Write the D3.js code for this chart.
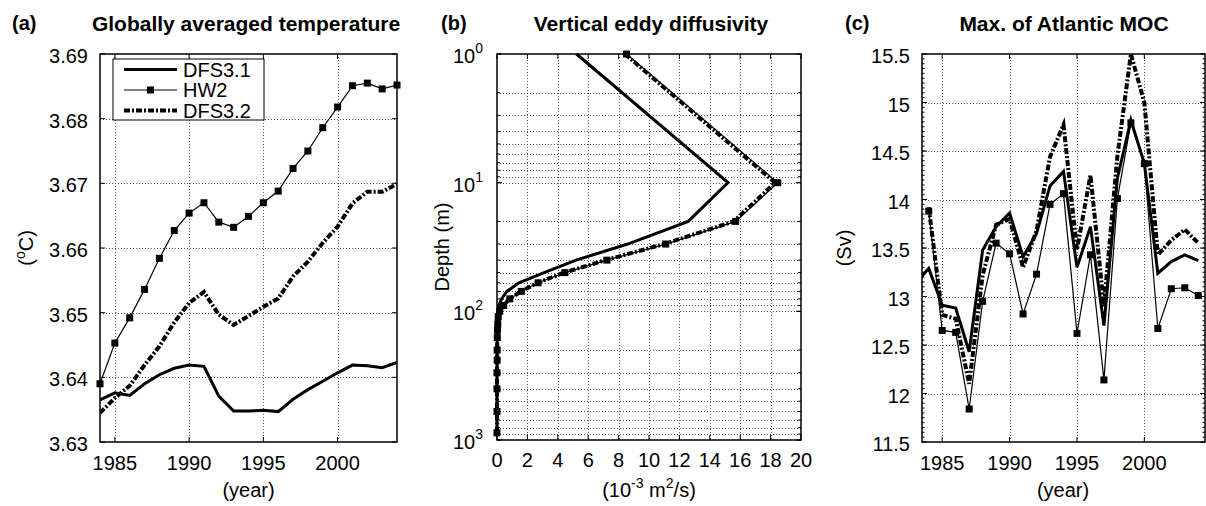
<!DOCTYPE html>
<html>
<head>
<meta charset="utf-8">
<script src="https://cdn.jsdelivr.net/npm/d3@7"></script>
<style>
  body { margin: 0; background: #fff; }
  svg text { font-family: "Liberation Sans", Arial, sans-serif; fill: #000; }
</style>
</head>
<body>
<svg id="fig" width="1206" height="506"></svg>
<script>
// ---- data ----
var years = [1984, 1985, 1986, 1987, 1988, 1989, 1990, 1991, 1992, 1993, 1994,
             1995, 1996, 1997, 1998, 1999, 2000, 2001, 2002, 2003, 2004];

// (a) globally averaged temperature (degC)
var tempDFS31 = [3.6365, 3.6376, 3.6372, 3.6390, 3.6404, 3.6414, 3.6419, 3.6417, 3.6371, 3.6348, 3.6348,
                 3.6349, 3.6347, 3.6366, 3.6381, 3.6394, 3.6407, 3.6419, 3.6418, 3.6415, 3.6423];
var tempHW2   = [3.6390, 3.6453, 3.6492, 3.6536, 3.6584, 3.6627, 3.6654, 3.6670, 3.6640, 3.6632, 3.6649,
                 3.6670, 3.6688, 3.6723, 3.6750, 3.6786, 3.6818, 3.6851, 3.6855, 3.6846, 3.6852];
var tempDFS32 = [3.6345, 3.6368, 3.6387, 3.6419, 3.6448, 3.6485, 3.6515, 3.6532, 3.6497, 3.6481, 3.6495,
                 3.6509, 3.6522, 3.6556, 3.6579, 3.6608, 3.6633, 3.6669, 3.6687, 3.6687, 3.6699];

// (b) vertical eddy diffusivity (1e-3 m2/s) against depth (m)
var depths   = [1, 10, 20, 30, 40, 50, 60, 70, 80, 90, 100, 110, 125, 140, 160, 200, 240, 300, 400, 600, 880];
var kzDFS31  = [5.23, 15.2, 12.58, 8.6, 5.2, 3.1, 1.45, 0.65, 0.3, 0.12, 0.05, 0.03, 0.02, 0.01, 0.01, 0.01, 0, 0, 0, 0, 0];
var kzHW2    = [8.52, 18.47, 15.7, 11.1, 7.23, 4.47, 2.7, 1.6, 0.84, 0.44, 0.18, 0.08, 0.05, 0.03, 0.02, 0.01, 0.01, 0, 0, 0, 0];
var kzDFS32  = [8.42, 18.3, 15.58, 11.0, 7.15, 4.42, 2.66, 1.58, 0.82, 0.43, 0.17, 0.07, 0.04, 0.03, 0.02, 0.01, 0.01, 0, 0, 0, 0];

// (c) max of Atlantic MOC (Sv); DFS3.1 starts one year earlier
var mocYears31 = [1983].concat(years);
var mocDFS31 = [13.13, 13.29, 12.91, 12.88, 12.43, 13.48, 13.72, 13.86, 13.41, 13.65, 14.14, 14.29,
                13.30, 13.72, 12.70, 14.22, 14.82, 14.37, 13.24, 13.36, 13.43, 13.37];
var mocHW2   = [13.88, 12.65, 12.63, 11.84, 12.95, 13.55, 13.44, 12.82, 13.23, 13.95, 14.06,
                12.62, 13.43, 12.14, 14.01, 14.79, 14.37, 12.67, 13.08, 13.09, 13.01];
var mocDFS32 = [13.92, 12.81, 12.77, 12.10, 13.22, 13.74, 13.80, 13.30, 13.68, 14.44, 14.77,
                13.48, 14.25, 12.90, 14.45, 15.50, 15.00, 13.43, 13.58, 13.69, 13.55];

var seriesNames = ["DFS3.1", "HW2", "DFS3.2"];
var yearTicks = [1985, 1990, 1995, 2000];
var tempTicks = [3.63, 3.64, 3.65, 3.66, 3.67, 3.68, 3.69];
var kzTicks = [0, 2, 4, 6, 8, 10, 12, 14, 16, 18, 20];
var depthTicks = [1, 10, 100, 1000];
var mocTicks = [11.5, 12, 12.5, 13, 13.5, 14, 14.5, 15, 15.5];

// ---- styles ----
var FS = 20;
var styles = {
  "DFS3.1": { width: 3, dash: null, marker: false },
  "HW2":    { width: 1.2, dash: null, marker: true },
  "DFS3.2": { width: 4, dash: "6,2,2,2", marker: false }
};

var svg = d3.select("#fig");

function addClip(id, w, h) {
  svg.append("clipPath").attr("id", id)
    .append("rect").attr("x", 0).attr("y", 0).attr("width", w).attr("height", h);
}

// dotted grid lines
function frame(g, x, y, w, h, xGrid, yGrid) {
  var grid = g.append("g")
    .attr("stroke", "#555").attr("stroke-width", 1).attr("stroke-dasharray", "1,2");
  grid.selectAll(".gx").data(xGrid).enter().append("line")
    .attr("x1", function (d) { return Math.round(x(d)) + 0.5; })
    .attr("x2", function (d) { return Math.round(x(d)) + 0.5; })
    .attr("y1", 0).attr("y2", h);
  grid.selectAll(".gy").data(yGrid).enter().append("line")
    .attr("y1", function (d) { return Math.round(y(d)) + 0.5; })
    .attr("y2", function (d) { return Math.round(y(d)) + 0.5; })
    .attr("x1", 0).attr("x2", w);
}

// inward ticks on all four sides
function ticks(g, x, y, w, h, xt, yt, len) {
  var t = g.append("g").attr("stroke", "#000").attr("stroke-width", 1);
  xt.forEach(function (d) {
    var px = x(d);
    t.append("line").attr("x1", px).attr("x2", px).attr("y1", h).attr("y2", h - len);
    t.append("line").attr("x1", px).attr("x2", px).attr("y1", 0).attr("y2", len);
  });
  yt.forEach(function (d) {
    var py = y(d);
    t.append("line").attr("y1", py).attr("y2", py).attr("x1", 0).attr("x2", len);
    t.append("line").attr("y1", py).attr("y2", py).attr("x1", w).attr("x2", w - len);
  });
}

function box(g, w, h) {
  g.append("rect").attr("x", 0).attr("y", 0).attr("width", w).attr("height", h)
    .attr("fill", "none").attr("stroke", "#000").attr("stroke-width", 1.5);
}

function drawSeries(g, name, pts, clipId) {
  var st = styles[name];
  var line = d3.line().x(function (d) { return d[0]; }).y(function (d) { return d[1]; });
  g.append("path")
    .datum(pts)
    .attr("clip-path", clipId ? "url(#" + clipId + ")" : null)
    .attr("d", line)
    .attr("fill", "none")
    .attr("stroke", "#000")
    .attr("stroke-width", st.width)
    .attr("stroke-linejoin", "miter")
    .attr("stroke-dasharray", st.dash);
  if (st.marker) {
    g.selectAll(null).data(pts).enter().append("rect")
      .attr("x", function (d) { return d[0] - 3.5; })
      .attr("y", function (d) { return d[1] - 3.5; })
      .attr("width", 7).attr("height", 7)
      .attr("fill", "#000");
  }
}

function titles(letter, lx, title, cx) {
  svg.append("text").attr("x", lx).attr("y", 30)
    .attr("font-size", FS).attr("font-weight", "bold").text(letter);
  svg.append("text").attr("x", cx).attr("y", 31).attr("text-anchor", "middle")
    .attr("font-size", 21).attr("font-weight", "bold").text(title);
}

function yLabel(x, y, build) {
  var t = svg.append("text").attr("transform", "translate(" + x + "," + y + ") rotate(-90)")
    .attr("text-anchor", "middle").attr("font-size", FS);
  build(t);
}

// ================= (a) =================
(function () {
  var L = 100, T = 54, W = 297, H = 388;
  var x = d3.scaleLinear().domain([1984, 2004]).range([0, W]);
  var y = d3.scaleLinear().domain([3.63, 3.69]).range([H, 0]);
  var g = svg.append("g").attr("transform", "translate(" + L + "," + T + ")");
  addClip("clipA", W, H);

  frame(g, x, y, W, H, yearTicks, tempTicks.slice(1, -1));

  var data = { "DFS3.1": tempDFS31, "HW2": tempHW2, "DFS3.2": tempDFS32 };
  seriesNames.forEach(function (n) {
    drawSeries(g, n, years.map(function (yr, i) { return [x(yr), y(data[n][i])]; }), "clipA");
  });

  ticks(g, x, y, W, H, yearTicks, tempTicks, 5);
  box(g, W, H);

  yearTicks.forEach(function (d) {
    g.append("text").attr("x", x(d)).attr("y", H + 28).attr("text-anchor", "middle")
      .attr("font-size", FS).text(d);
  });
  tempTicks.forEach(function (d) {
    g.append("text").attr("x", -12).attr("y", y(d) + 9).attr("text-anchor", "end")
      .attr("font-size", FS).text(d3.format(".2f")(d));
  });

  // legend
  var lg = g.append("g").attr("transform", "translate(13,5)");
  lg.append("rect").attr("width", 151).attr("height", 61)
    .attr("fill", "#fff").attr("stroke", "#000").attr("stroke-width", 1);
  seriesNames.forEach(function (n, i) {
    var cy = 10.5 + i * 20.5;
    var st = styles[n];
    lg.append("line").attr("x1", 11).attr("x2", 64).attr("y1", cy).attr("y2", cy)
      .attr("stroke", "#000").attr("stroke-width", st.width).attr("stroke-dasharray", st.dash);
    if (st.marker) {
      lg.append("rect").attr("x", 37.5 - 3.5).attr("y", cy - 3.5).attr("width", 7).attr("height", 7);
    }
    lg.append("text").attr("x", 70).attr("y", cy + 7).attr("font-size", FS).text(n);
  });

  svg.append("text").attr("x", L + W / 2).attr("y", 497).attr("text-anchor", "middle")
    .attr("font-size", FS).text("(year)");
  yLabel(33, T + H / 2, function (t) {
    t.append("tspan").text("(");
    t.append("tspan").attr("font-size", 14).attr("dy", -8).text("o");
    t.append("tspan").attr("dy", 8).text("C)");
  });
  titles("(a)", 12, "Globally averaged temperature", 246);
})();

// ================= (b) =================
(function () {
  var L = 497, T = 54, W = 304, H = 386;
  var x = d3.scaleLinear().domain([0, 20]).range([0, W]);
  var y = d3.scaleLog().domain([1, 1000]).range([0, H]);
  var g = svg.append("g").attr("transform", "translate(" + L + "," + T + ")");
  addClip("clipB", W, H);

  var minor = [];
  [1, 10, 100].forEach(function (dec) {
    for (var k = 1; k < 10; k++) minor.push(dec * k);
  });
  minor.push(1000);
  frame(g, x, y, W, H, kzTicks.slice(1, -1),
        minor.filter(function (d) { return d > 1 && d < 1000; }));

  var data = { "DFS3.1": kzDFS31, "HW2": kzHW2, "DFS3.2": kzDFS32 };
  seriesNames.forEach(function (n) {
    drawSeries(g, n, depths.map(function (dp, i) { return [x(data[n][i]), y(dp)]; }), null);
  });

  ticks(g, x, y, W, H, kzTicks, depthTicks, 5);
  ticks(g, x, y, W, H, [], minor, 3);
  box(g, W, H);

  kzTicks.forEach(function (d) {
    g.append("text").attr("x", x(d)).attr("y", H + 27).attr("text-anchor", "middle")
      .attr("font-size", FS).text(d);
  });
  depthTicks.forEach(function (d) {
    var t = g.append("text").attr("x", -14).attr("y", y(d) + 9).attr("text-anchor", "end")
      .attr("font-size", FS);
    t.append("tspan").text("10");
    t.append("tspan").attr("font-size", 14).attr("dy", -10).text(Math.round(Math.log10(d)));
  });

  var xl = svg.append("text").attr("x", L + W / 2).attr("y", 497).attr("text-anchor", "middle")
    .attr("font-size", FS);
  xl.append("tspan").text("(10");
  xl.append("tspan").attr("font-size", 14).attr("dy", -9).text("-3");
  xl.append("tspan").attr("dy", 9).text(" m");
  xl.append("tspan").attr("font-size", 14).attr("dy", -9).text("2");
  xl.append("tspan").attr("dy", 9).text("/s)");

  yLabel(449, T + H / 2, function (t) { t.text("Depth (m)"); });
  titles("(b)", 441, "Vertical eddy diffusivity", 651);
})();

// ================= (c) =================
(function () {
  var L = 922, T = 54, W = 283, H = 388;
  var x = d3.scaleLinear().domain([1983.5, 2004.5]).range([0, W]);
  var y = d3.scaleLinear().domain([11.5, 15.5]).range([H, 0]);
  var g = svg.append("g").attr("transform", "translate(" + L + "," + T + ")");
  addClip("clipC", W, H);

  frame(g, x, y, W, H, yearTicks, mocTicks.slice(1, -1));

  drawSeries(g, "DFS3.1", mocYears31.map(function (yr, i) { return [x(yr), y(mocDFS31[i])]; }), "clipC");
  drawSeries(g, "HW2", years.map(function (yr, i) { return [x(yr), y(mocHW2[i])]; }), "clipC");
  drawSeries(g, "DFS3.2", years.map(function (yr, i) { return [x(yr), y(mocDFS32[i])]; }), "clipC");

  ticks(g, x, y, W, H, yearTicks, mocTicks, 5);
  // minor ticks every 0.05 Sv on both sides
  ticks(g, x, y, W, H, [], d3.range(0, 81).map(function (k) { return 11.5 + k * 0.05; }), 2.5);
  box(g, W, H);

  yearTicks.forEach(function (d) {
    g.append("text").attr("x", x(d)).attr("y", H + 28).attr("text-anchor", "middle")
      .attr("font-size", FS).text(d);
  });
  mocTicks.forEach(function (d) {
    g.append("text").attr("x", -12).attr("y", y(d) + 9).attr("text-anchor", "end")
      .attr("font-size", FS).text(d);
  });

  svg.append("text").attr("x", 1063).attr("y", 497).attr("text-anchor", "middle")
    .attr("font-size", FS).text("(year)");
  yLabel(851, T + H / 2, function (t) { t.text("(Sv)"); });
  titles("(c)", 845, "Max. of Atlantic MOC", 1064);
})();
</script>
</body>
</html>
